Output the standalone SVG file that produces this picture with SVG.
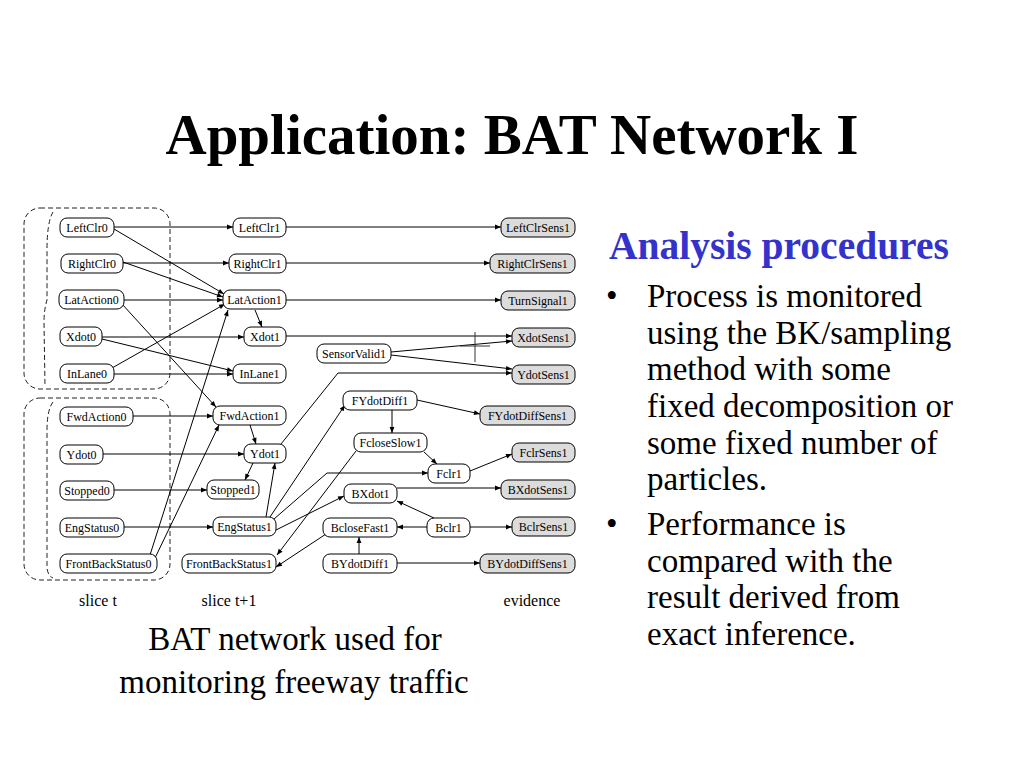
<svg xmlns="http://www.w3.org/2000/svg" width="1024" height="768" viewBox="0 0 1024 768">
<style>
.nd rect{fill:#fff;stroke:#000;stroke-width:1}
.ev rect{fill:#dcdcdc;stroke:#000;stroke-width:1}
.nd text,.ev text{font-family:"Liberation Serif",serif;font-size:12px;fill:#000;text-anchor:middle}
.cn line,.cn polyline{stroke:#000;stroke-width:1;fill:none;marker-end:url(#ah)}
.cn .plain{marker-end:none;stroke:#333}
.dash{fill:none;stroke:#222;stroke-width:1;stroke-dasharray:5 3}
.lbl{font-family:"Liberation Serif",serif;font-size:16px;fill:#000}
.body{font-family:"Liberation Serif",serif;font-size:33px;fill:#000}
</style>
<defs>
<marker id="ah" viewBox="0 0 10 10" refX="10" refY="5" markerWidth="8" markerHeight="6" markerUnits="userSpaceOnUse" orient="auto"><path d="M0,1 L10,5 L0,9 z" fill="#000"/></marker>
</defs>
<rect width="1024" height="768" fill="#fff"/>
<text x="512" y="154" text-anchor="middle" font-family="'Liberation Serif',serif" font-weight="bold" font-size="57">Application: BAT Network I</text>

<g id="slices">
<rect class="dash" x="24" y="208" width="146" height="181" rx="16"/>
<path class="dash" d="M53,212 Q47,222 47,250 L47,300 Q44,310 44,322 L45,386"/>
<rect class="dash" x="24" y="398" width="146" height="182" rx="16"/>
<path class="dash" d="M53,402 Q47,410 47,430 L47,568 Q48,576 53,578"/>
</g>

<g id="connectors" class="cn">
<line x1="114" y1="227" x2="233" y2="227"/>
<line x1="114" y1="229" x2="224" y2="294"/>
<line x1="123" y1="263" x2="229" y2="263"/>
<line x1="123" y1="262" x2="223" y2="297"/>
<line x1="124" y1="300" x2="223" y2="300"/>
<line x1="122" y1="304" x2="216" y2="407"/>
<line x1="102" y1="337" x2="244" y2="337"/>
<line x1="102" y1="339" x2="233" y2="371"/>
<line x1="114" y1="374" x2="233" y2="374"/>
<line x1="112" y1="368" x2="225" y2="304"/>
<line x1="150" y1="555" x2="228" y2="310"/>
<line x1="155" y1="558" x2="219" y2="425"/>
<line x1="133" y1="416" x2="213" y2="416"/>
<line x1="103" y1="454" x2="244" y2="454"/>
<line x1="114" y1="490" x2="207" y2="490"/>
<line x1="124" y1="527" x2="213" y2="527"/>
<line x1="286" y1="227" x2="501" y2="227"/>
<line x1="286" y1="263" x2="490" y2="263"/>
<line x1="286" y1="300" x2="501" y2="300"/>
<line x1="255" y1="310" x2="262" y2="327"/>
<line x1="286" y1="336" x2="512" y2="336"/>
<line x1="391" y1="352" x2="512" y2="341"/>
<line x1="391" y1="355" x2="512" y2="369"/>
<polyline points="281,444 338,373 512,373"/>
<line class="plain" x1="475" y1="332" x2="475" y2="362"/>
<line class="plain" x1="460" y1="346" x2="490" y2="346" stroke="#666"/>
<line x1="250" y1="425" x2="256" y2="444"/>
<line x1="253" y1="463" x2="245" y2="480"/>
<line x1="266" y1="517" x2="275" y2="463"/>
<line x1="270" y1="517" x2="345" y2="405"/>
<polyline points="274,519 327,473 428,473"/>
<line x1="276" y1="530" x2="344" y2="496"/>
<line x1="356" y1="451" x2="277" y2="555"/>
<line x1="326" y1="534" x2="276" y2="567"/>
<line x1="392" y1="410" x2="392" y2="433"/>
<line x1="417" y1="400" x2="480" y2="414"/>
<line x1="424" y1="452" x2="437" y2="464"/>
<line x1="470" y1="471" x2="512" y2="454"/>
<line x1="397" y1="488" x2="501" y2="488"/>
<line x1="434" y1="518" x2="397" y2="501"/>
<line x1="427" y1="527" x2="397" y2="527"/>
<line x1="470" y1="527" x2="512" y2="527"/>
<line x1="359" y1="554" x2="359" y2="537"/>
<line x1="397" y1="563" x2="480" y2="563"/>
</g>

<g id="LeftClr0" class="nd"><rect x="60" y="218" width="54" height="19" rx="7"/><text x="87" y="231.5">LeftClr0</text></g>
<g id="RightClr0" class="nd"><rect x="61" y="254" width="62" height="19" rx="7"/><text x="92" y="267.5">RightClr0</text></g>
<g id="LatAction0" class="nd"><rect x="59" y="290" width="65" height="19" rx="7"/><text x="91.5" y="303.5">LatAction0</text></g>
<g id="Xdot0" class="nd"><rect x="60" y="327" width="42" height="19" rx="7"/><text x="81" y="340.5">Xdot0</text></g>
<g id="InLane0" class="nd"><rect x="60" y="364" width="54" height="19" rx="7"/><text x="87" y="377.5">InLane0</text></g>
<g id="FwdAction0" class="nd"><rect x="60" y="407" width="73" height="19" rx="7"/><text x="96.5" y="420.5">FwdAction0</text></g>
<g id="Ydot0" class="nd"><rect x="60" y="445" width="43" height="19" rx="7"/><text x="81.5" y="458.5">Ydot0</text></g>
<g id="Stopped0" class="nd"><rect x="60" y="481" width="54" height="19" rx="7"/><text x="87" y="494.5">Stopped0</text></g>
<g id="EngStatus0" class="nd"><rect x="60" y="518" width="64" height="19" rx="7"/><text x="92" y="531.5">EngStatus0</text></g>
<g id="FrontBackStatus0" class="nd"><rect x="60" y="554" width="97" height="19" rx="7"/><text x="108.5" y="567.5">FrontBackStatus0</text></g>

<g id="LeftClr1" class="nd"><rect x="233" y="218" width="53" height="19" rx="7"/><text x="259.5" y="231.5">LeftClr1</text></g>
<g id="RightClr1" class="nd"><rect x="229" y="254" width="57" height="19" rx="7"/><text x="257.5" y="267.5">RightClr1</text></g>
<g id="LatAction1" class="nd"><rect x="223" y="290" width="63" height="19" rx="7"/><text x="254.5" y="303.5">LatAction1</text></g>
<g id="Xdot1" class="nd"><rect x="244" y="327" width="42" height="19" rx="7"/><text x="265" y="340.5">Xdot1</text></g>
<g id="InLane1" class="nd"><rect x="233" y="364" width="53" height="19" rx="7"/><text x="259.5" y="377.5">InLane1</text></g>
<g id="SensorValid1" class="nd"><rect x="317" y="344" width="74" height="19" rx="7"/><text x="354" y="357.5">SensorValid1</text></g>
<g id="FwdAction1" class="nd"><rect x="213" y="406" width="73" height="19" rx="7"/><text x="249.5" y="419.5">FwdAction1</text></g>
<g id="Ydot1" class="nd"><rect x="244" y="444" width="42" height="19" rx="7"/><text x="265" y="457.5">Ydot1</text></g>
<g id="Stopped1" class="nd"><rect x="207" y="480" width="52" height="19" rx="7"/><text x="233" y="493.5">Stopped1</text></g>
<g id="EngStatus1" class="nd"><rect x="213" y="517" width="63" height="19" rx="7"/><text x="244.5" y="530.5">EngStatus1</text></g>
<g id="FrontBackStatus1" class="nd"><rect x="182" y="554" width="94" height="19" rx="7"/><text x="229" y="567.5">FrontBackStatus1</text></g>
<g id="FYdotDiff1" class="nd"><rect x="343" y="391" width="74" height="19" rx="7"/><text x="380" y="404.5">FYdotDiff1</text></g>
<g id="FcloseSlow1" class="nd"><rect x="354" y="433" width="73" height="19" rx="7"/><text x="390.5" y="446.5">FcloseSlow1</text></g>
<g id="Fclr1" class="nd"><rect x="428" y="464" width="42" height="19" rx="7"/><text x="449" y="477.5">Fclr1</text></g>
<g id="BXdot1" class="nd"><rect x="344" y="484" width="53" height="19" rx="7"/><text x="370.5" y="497.5">BXdot1</text></g>
<g id="BcloseFast1" class="nd"><rect x="323" y="518" width="74" height="19" rx="7"/><text x="360" y="531.5">BcloseFast1</text></g>
<g id="Bclr1" class="nd"><rect x="427" y="518" width="43" height="19" rx="7"/><text x="448.5" y="531.5">Bclr1</text></g>
<g id="BYdotDiff1" class="nd"><rect x="323" y="554" width="74" height="19" rx="7"/><text x="360" y="567.5">BYdotDiff1</text></g>

<g id="LeftClrSens1" class="ev"><rect x="501" y="218" width="74" height="19" rx="7"/><text x="538" y="231.5">LeftClrSens1</text></g>
<g id="RightClrSens1" class="ev"><rect x="490" y="254" width="85" height="19" rx="7"/><text x="532.5" y="267.5">RightClrSens1</text></g>
<g id="TurnSignal1" class="ev"><rect x="501" y="291" width="74" height="19" rx="7"/><text x="538" y="304.5">TurnSignal1</text></g>
<g id="XdotSens1" class="ev"><rect x="512" y="328" width="63" height="19" rx="7"/><text x="543.5" y="341.5">XdotSens1</text></g>
<g id="YdotSens1" class="ev"><rect x="512" y="365" width="63" height="19" rx="7"/><text x="543.5" y="378.5">YdotSens1</text></g>
<g id="FYdotDiffSens1" class="ev"><rect x="480" y="406" width="95" height="19" rx="7"/><text x="527.5" y="419.5">FYdotDiffSens1</text></g>
<g id="FclrSens1" class="ev"><rect x="512" y="443" width="63" height="19" rx="7"/><text x="543.5" y="456.5">FclrSens1</text></g>
<g id="BXdotSens1" class="ev"><rect x="501" y="480" width="74" height="19" rx="7"/><text x="538" y="493.5">BXdotSens1</text></g>
<g id="BclrSens1" class="ev"><rect x="512" y="517" width="63" height="19" rx="7"/><text x="543.5" y="530.5">BclrSens1</text></g>
<g id="BYdotDiffSens1" class="ev"><rect x="480" y="554" width="95" height="19" rx="7"/><text x="527.5" y="567.5">BYdotDiffSens1</text></g>

<text class="lbl" x="98" y="606" text-anchor="middle">slice t</text>
<text class="lbl" x="229" y="606" text-anchor="middle">slice t+1</text>
<text class="lbl" x="532" y="606" text-anchor="middle">evidence</text>

<text class="body" x="295" y="650" text-anchor="middle">BAT network used for</text>
<text class="body" x="294" y="693" text-anchor="middle">monitoring freeway traffic</text>

<text x="609" y="259" font-family="'Liberation Serif',serif" font-weight="bold" font-size="39.5" fill="#3333cc">Analysis procedures</text>
<g class="body">
<text x="606" y="307">•</text>
<text x="647" y="307">Process is monitored</text>
<text x="647" y="344">using the BK/sampling</text>
<text x="647" y="380">method with some</text>
<text x="647" y="417">fixed decomposition or</text>
<text x="647" y="454">some fixed number of</text>
<text x="647" y="490">particles.</text>
<text x="606" y="535">•</text>
<text x="647" y="535">Performance is</text>
<text x="647" y="572">compared with the</text>
<text x="647" y="608">result derived from</text>
<text x="647" y="645">exact inference.</text>
</g>
</svg>
